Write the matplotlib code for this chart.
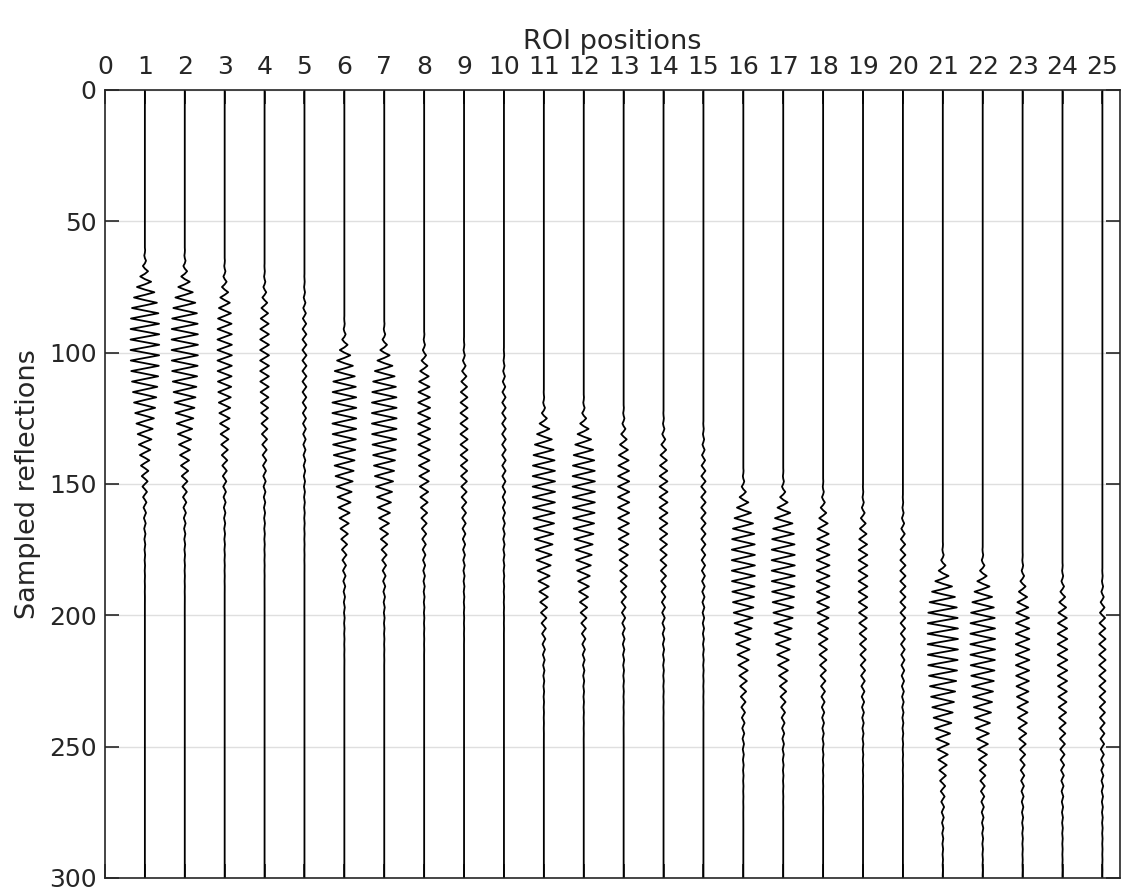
import matplotlib.pyplot as plt
import numpy as np

# wiggle traces: one per ROI position, sampled reflections 0..300
positions = np.arange(1, 26)
samples = np.arange(0, 301)

# wavelet centre (sample index) and peak amplitude per trace
peak_sample = [98, 99, 101, 103, 105,
               125, 126, 128, 130, 132,
               153, 154, 156, 158, 160,
               182, 183, 185, 187, 189,
               211, 212, 214, 216, 218]
peak_amp = [0.36, 0.33, 0.18, 0.11, 0.05,
            0.30, 0.31, 0.15, 0.09, 0.045,
            0.28, 0.28, 0.14, 0.10, 0.055,
            0.29, 0.29, 0.16, 0.11, 0.065,
            0.38, 0.31, 0.17, 0.12, 0.08]

period = 4.0       # samples per cycle
rise, decay = 22.0, 28.0

fig = plt.figure(figsize=(11.24, 8.91), dpi=100)
ax = fig.add_axes([0.0934, 0.0146, 0.903, 0.8844])

for pos, c, a in zip(positions, peak_sample, peak_amp):
    d = samples - c
    # sharp onset, slower gaussian tail
    env = np.where(d < 0, np.exp(-0.5 * (d / rise)**4), np.exp(-0.5 * (d / decay)**2))
    trace = a * env * np.sin(2 * np.pi * samples / period)
    ax.plot(pos + trace, samples, color='black', lw=1.3)

ax.set_xlim(0, 25.44)
ax.set_ylim(300, 0)
ax.set_xticks(np.arange(0, 26))
ax.set_yticks(np.arange(0, 301, 50))
ax.xaxis.set_ticks_position('top')
ax.xaxis.set_label_position('top')
ax.tick_params(direction='in', length=10, width=1.2, labelsize=18,
               colors='#262626', top=True, bottom=True, left=True, right=True,
               labeltop=True, labelbottom=False)
ax.tick_params(axis='x', pad=8)
ax.tick_params(axis='y', pad=6)
ax.grid(axis='y', color='#dfdfdf', lw=1)
ax.set_axisbelow(True)
for s in ax.spines.values():
    s.set_color('#262626')
    s.set_linewidth(1.2)

ax.set_xlabel('ROI positions', fontsize=19.5, color='#262626', labelpad=4)
ax.set_ylabel('Sampled reflections', fontsize=19.5, color='#262626', labelpad=6)

fig.savefig('out.png', dpi=100)
